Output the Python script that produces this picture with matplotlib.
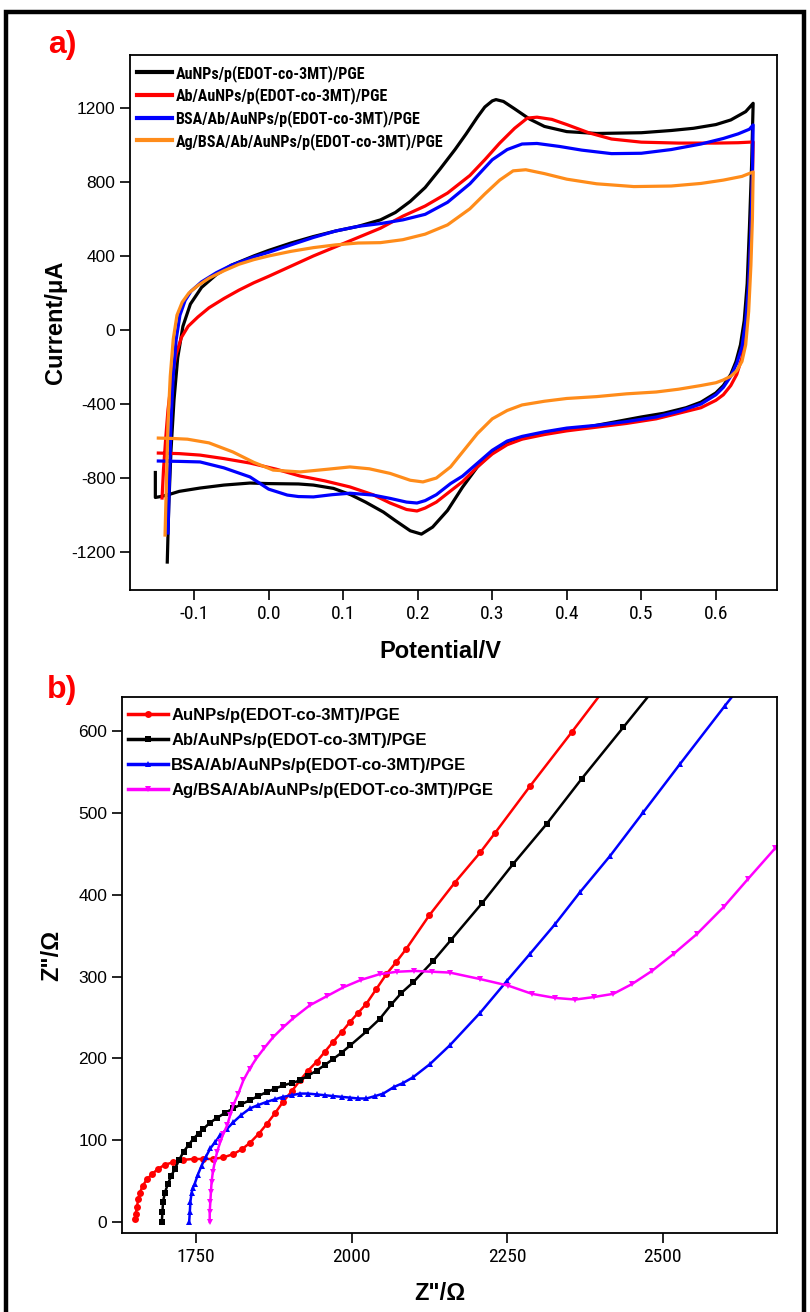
import matplotlib
matplotlib.use("Agg")
import matplotlib.pyplot as plt
from matplotlib import font_manager
from matplotlib.font_manager import FontProperties
from matplotlib.patches import Rectangle

def pick(fams):
    for f in fams:
        try:
            font_manager.findfont(FontProperties(family=f), fallback_to_default=False)
            return f
        except Exception:
            pass
    return "DejaVu Sans"

SANS = pick(["Liberation Sans", "Arial", "DejaVu Sans"])

def narrow_file(bold):
    cands = []
    for f in font_manager.fontManager.ttflist:
        fn = f.fname.lower()
        name = f.name.lower()
        is_bold = (f.weight in ("bold", 700, "700")) or ("bold" in fn)
        if is_bold != bold or "italic" in fn or "oblique" in fn:
            continue
        if "liberation" in name and "narrow" in (name + fn):
            cands.append((0, f.fname))
        elif "roboto" in name and "condensed" in (name + fn) and "light" not in fn and "medium" not in fn:
            cands.append((1, f.fname))
        elif "dejavu" in name and "condensed" in fn:
            cands.append((2, f.fname))
    cands.sort()
    return cands[0][1] if cands else None

NR = narrow_file(False)
NB = narrow_file(True)

def nprop(size, bold=False):
    p = NB if bold else NR
    if p:
        return FontProperties(fname=p, size=size)
    return FontProperties(family=SANS, size=size, weight="bold" if bold else "normal")

# ---------------- CV data (panel a) ----------------
cv_labels = ["AuNPs/p(EDOT-co-3MT)/PGE", "Ab/AuNPs/p(EDOT-co-3MT)/PGE",
             "BSA/Ab/AuNPs/p(EDOT-co-3MT)/PGE", "Ag/BSA/Ab/AuNPs/p(EDOT-co-3MT)/PGE"]
cv_colors = ["#000000", "#ff0000", "#0000ff", "#ff8c1a"]

black_E = [-0.136, -0.134, -0.131, -0.127, -0.122, -0.115, -0.105, -0.09, -0.07, -0.05, -0.02, 0.0, 0.03, 0.06, 0.09, 0.12, 0.15, 0.17, 0.19, 0.21, 0.23, 0.25, 0.265, 0.28, 0.29, 0.30, 0.305, 0.315, 0.33, 0.35, 0.37, 0.40, 0.44, 0.50, 0.54, 0.57, 0.60, 0.62, 0.64, 0.65,
           0.648, 0.645, 0.642, 0.638, 0.633, 0.627, 0.62, 0.61, 0.60, 0.58, 0.56, 0.53, 0.50, 0.46, 0.42, 0.38, 0.35, 0.32, 0.30, 0.28, 0.26, 0.24, 0.22, 0.205, 0.19, 0.17, 0.154, 0.13, 0.11, 0.087, 0.06, 0.04, 0.0, -0.025, -0.06, -0.092, -0.12, -0.136, -0.145, -0.152, -0.152]
black_I = [-1254, -950, -650, -380, -150, 20, 140, 230, 300, 350, 400, 430, 470, 505, 535, 560, 595, 635, 695, 770, 870, 975, 1060, 1150, 1205, 1238, 1245, 1235, 1195, 1140, 1100, 1072, 1062, 1066, 1078, 1090, 1110, 1135, 1180, 1225,
           900, 550, 250, 50, -80, -170, -240, -300, -340, -390, -420, -450, -470, -500, -530, -550, -575, -610, -660, -740, -850, -975, -1065, -1103, -1085, -1030, -984, -930, -890, -856, -838, -832, -830, -827, -838, -854, -872, -892, -900, -905, -770]

red_E = [-0.143, -0.141, -0.138, -0.135, -0.13, -0.124, -0.117, -0.108, -0.095, -0.08, -0.06, -0.04, -0.02, 0.0, 0.03, 0.06, 0.09, 0.12, 0.15, 0.18, 0.21, 0.24, 0.27, 0.29, 0.31, 0.33, 0.347, 0.36, 0.38, 0.40, 0.43, 0.46, 0.50, 0.55, 0.60, 0.63, 0.65,
         0.649, 0.647, 0.644, 0.64, 0.635, 0.628, 0.62, 0.61, 0.60, 0.58, 0.55, 0.52, 0.48, 0.44, 0.40, 0.37, 0.34, 0.32, 0.30, 0.28, 0.26, 0.244, 0.225, 0.21, 0.199, 0.185, 0.163, 0.14, 0.109, 0.075, 0.042, 0.01, -0.025, -0.06, -0.092, -0.12, -0.148]
red_I = [-908, -750, -580, -430, -260, -130, -40, 20, 70, 120, 170, 215, 255, 290, 345, 400, 450, 500, 550, 615, 670, 740, 835, 920, 1010, 1090, 1145, 1150, 1138, 1110, 1065, 1032, 1015, 1010, 1010, 1012, 1016,
         800, 500, 200, -20, -150, -240, -300, -350, -380, -420, -450, -480, -505, -525, -545, -565, -590, -620, -670, -740, -820, -870, -930, -962, -978, -970, -935, -890, -848, -815, -789, -752, -719, -695, -676, -668, -665]

blue_E = [-0.135, -0.133, -0.131, -0.128, -0.124, -0.119, -0.112, -0.104, -0.09, -0.07, -0.05, -0.02, 0.0, 0.03, 0.06, 0.09, 0.12, 0.15, 0.18, 0.21, 0.24, 0.27, 0.30, 0.32, 0.34, 0.36, 0.39, 0.42, 0.46, 0.50, 0.54, 0.58, 0.61, 0.63, 0.645, 0.65,
          0.649, 0.647, 0.644, 0.64, 0.635, 0.628, 0.62, 0.61, 0.60, 0.58, 0.55, 0.52, 0.48, 0.44, 0.40, 0.37, 0.34, 0.32, 0.30, 0.28, 0.26, 0.244, 0.225, 0.21, 0.199, 0.185, 0.163, 0.14, 0.109, 0.085, 0.06, 0.04, 0.025, 0.0, -0.025, -0.06, -0.092, -0.12, -0.148]
blue_I = [-1097, -800, -500, -250, -50, 80, 160, 210, 260, 310, 350, 395, 420, 460, 500, 535, 560, 575, 595, 625, 690, 790, 920, 975, 1005, 1008, 992, 972, 953, 955, 975, 1005, 1035, 1060, 1085, 1108,
          850, 550, 250, 50, -90, -180, -250, -310, -350, -400, -440, -470, -495, -515, -530, -550, -575, -600, -650, -720, -790, -830, -890, -922, -935, -930, -910, -892, -882, -890, -902, -900, -892, -860, -794, -745, -713, -710, -708]

orange_E = [-0.139, -0.137, -0.135, -0.132, -0.128, -0.123, -0.116, -0.107, -0.095, -0.08, -0.06, -0.04, -0.02, 0.0, 0.03, 0.06, 0.09, 0.12, 0.15, 0.18, 0.21, 0.24, 0.27, 0.29, 0.31, 0.328, 0.345, 0.37, 0.40, 0.44, 0.49, 0.54, 0.58, 0.61, 0.635, 0.65,
            0.649, 0.647, 0.644, 0.64, 0.635, 0.628, 0.62, 0.61, 0.60, 0.58, 0.55, 0.52, 0.48, 0.44, 0.40, 0.37, 0.34, 0.32, 0.30, 0.28, 0.26, 0.244, 0.225, 0.207, 0.19, 0.163, 0.135, 0.109, 0.08, 0.042, 0.006, -0.02, -0.048, -0.08, -0.109, -0.13, -0.148]
orange_I = [-1108, -800, -500, -250, -50, 80, 150, 200, 240, 280, 320, 355, 380, 400, 425, 445, 460, 470, 472, 488, 518, 568, 655, 735, 810, 860, 866, 845, 815, 790, 775, 778, 792, 810, 830, 854,
            600, 350, 100, -80, -170, -220, -250, -270, -285, -300, -320, -335, -345, -360, -370, -385, -405, -435, -480, -560, -660, -740, -800, -821, -812, -775, -750, -740, -752, -767, -757, -715, -659, -610, -590, -586, -584]

cv_E = [black_E, red_E, blue_E, orange_E]
cv_I = [black_I, red_I, blue_I, orange_I]
cv_xticks = [-0.1, 0.0, 0.1, 0.2, 0.3, 0.4, 0.5, 0.6]
cv_yticks = [-1200, -800, -400, 0, 400, 800, 1200]

# ---------------- EIS data (panel b) ----------------
eis_labels = ["AuNPs/p(EDOT-co-3MT)/PGE", "Ab/AuNPs/p(EDOT-co-3MT)/PGE",
              "BSA/Ab/AuNPs/p(EDOT-co-3MT)/PGE", "Ag/BSA/Ab/AuNPs/p(EDOT-co-3MT)/PGE"]
eis_colors = ["#ff0000", "#000000", "#0000ff", "#ff00ff"]
eis_markers = ["o", "s", "^", "v"]

au_Zre = [1652, 1653, 1655, 1657, 1660, 1664, 1671, 1680, 1689, 1700, 1713, 1729, 1746, 1762, 1778, 1794, 1810, 1824, 1837, 1851, 1864, 1877, 1890, 1904, 1917, 1930, 1944, 1957, 1970, 1984, 1998, 2011, 2024, 2040, 2056, 2072, 2088, 2125, 2166, 2207, 2231, 2287, 2354, 2410]
au_Zim = [4, 10, 18, 28, 36, 44, 52, 59, 65, 70, 73, 76, 77, 77, 77, 79, 83, 89, 97, 108, 120, 133, 147, 160, 173, 185, 196, 208, 220, 232, 245, 256, 267, 285, 303, 318, 334, 375, 415, 452, 476, 533, 599, 655]

ab_Zre = [1695, 1696, 1697, 1700, 1705, 1710, 1716, 1723, 1730, 1738, 1746, 1754, 1762, 1772, 1783, 1796, 1810, 1823, 1837, 1850, 1864, 1877, 1890, 1904, 1917, 1930, 1944, 1957, 1970, 1984, 1998, 2024, 2045, 2064, 2080, 2099, 2131, 2160, 2210, 2260, 2314, 2370, 2437, 2490]
ab_Zim = [0, 12, 25, 36, 47, 56, 65, 76, 86, 94, 102, 108, 114, 121, 127, 133, 139, 144, 149, 154, 159, 163, 167, 170, 173, 179, 185, 192, 199, 207, 216, 233, 248, 266, 280, 293, 319, 345, 390, 438, 487, 542, 605, 655]

bsa_Zre = [1739, 1740, 1741, 1743, 1745, 1748, 1753, 1759, 1766, 1773, 1781, 1789, 1800, 1810, 1823, 1837, 1850, 1864, 1877, 1890, 1904, 1917, 1930, 1944, 1957, 1970, 1984, 1998, 2011, 2024, 2038, 2051, 2068, 2083, 2099, 2126, 2158, 2207, 2250, 2287, 2327, 2367, 2416, 2469, 2528, 2600, 2625]
bsa_Zim = [0, 12, 25, 36, 42, 47, 58, 69, 80, 90, 98, 106, 114, 122, 131, 139, 143, 147, 150, 153, 155, 157, 157, 156, 155, 154, 153, 152, 151, 151, 154, 157, 165, 170, 177, 193, 216, 256, 295, 328, 364, 403, 448, 501, 560, 631, 655]

ag_Zre = [1772, 1772, 1773, 1774, 1775, 1777, 1780, 1784, 1789, 1794, 1800, 1805, 1810, 1818, 1826, 1836, 1847, 1860, 1874, 1890, 1906, 1933, 1960, 1987, 2015, 2045, 2073, 2101, 2130, 2158, 2207, 2252, 2290, 2327, 2360, 2389, 2421, 2451, 2483, 2518, 2555, 2598, 2638, 2681, 2700]
ag_Zim = [0, 12, 25, 37, 49, 61, 73, 86, 98, 108, 118, 131, 143, 157, 173, 187, 200, 213, 226, 238, 249, 265, 276, 287, 296, 303, 306, 307, 306, 305, 297, 289, 279, 274, 272, 275, 279, 291, 307, 328, 352, 385, 420, 457, 467]

eis_Zre = [au_Zre, ab_Zre, bsa_Zre, ag_Zre]
eis_Zim = [au_Zim, ab_Zim, bsa_Zim, ag_Zim]
eis_xticks = [1750, 2000, 2250, 2500]
eis_yticks = [0, 100, 200, 300, 400, 500, 600]

# ---------------- figure ----------------
W, H = 810, 1312
fig = plt.figure(figsize=(W / 100, H / 100), dpi=100)
fig.patch.set_facecolor("white")

def px_axes(l, t, r, b):
    return fig.add_axes([l / W, 1 - b / H, (r - l) / W, (b - t) / H])

fig.add_artist(Rectangle((6 / W, -0.05), (W - 12) / W, 1.05 - 12 / H, transform=fig.transFigure,
                         fill=False, edgecolor="black", linewidth=3.2, zorder=10))

def style(ax):
    for s in ax.spines.values():
        s.set_linewidth(1.3)
        s.set_color("black")
    ax.tick_params(axis="both", which="both", direction="out", length=7, width=1.2,
                   top=False, right=False, colors="black")

def set_ticklabels(ax, xt, xl, yt, yl):
    ax.set_xticks(xt)
    ax.set_xticklabels(xl)
    for t in ax.get_xticklabels():
        t.set_fontproperties(nprop(14))
    ax.set_yticks(yt)
    ax.set_yticklabels(yl)
    for t in ax.get_yticklabels():
        t.set_fontfamily(SANS)
        t.set_fontsize(12.5)

# ---- panel a ----
ax1 = px_axes(130, 55, 777, 590)
for E, I, c, lab in zip(cv_E, cv_I, cv_colors, cv_labels):
    ax1.plot(E, I, color=c, lw=2.3, label=lab, solid_joinstyle="round")
ax1.set_xlim(-0.186, 0.682)
ax1.set_ylim(-1405, 1486)
set_ticklabels(ax1, cv_xticks, [f"{v:.1f}" for v in cv_xticks], cv_yticks, [str(v) for v in cv_yticks])
style(ax1)
leg1 = ax1.legend(loc="upper left", bbox_to_anchor=(0.011, 0.982), frameon=False,
                  prop=nprop(11.5 if NB else 10, bold=True),
                  handlelength=2.2, handletextpad=0.2, labelspacing=0.36, borderaxespad=0, borderpad=0)
for h in leg1.get_lines():
    h.set_linewidth(3)

fig.text(62 / W, 1 - 45 / H, "a)", color="#ff0000", fontsize=23, fontweight="bold",
         fontfamily=SANS, ha="center", va="center")
fig.text(55 / W, 1 - 322 / H, "Current/\u03bcA", rotation=90, fontsize=17, fontweight="bold",
         fontfamily=SANS, ha="center", va="center")
fig.text(440 / W, 1 - 651 / H, "Potential/V", fontsize=17, fontweight="bold",
         fontfamily=SANS, ha="center", va="center")

# ---- panel b ----
ax2 = px_axes(122, 697, 777, 1233)
for x, y, c, m, lab in zip(eis_Zre, eis_Zim, eis_colors, eis_markers, eis_labels):
    ax2.plot(x, y, color=c, lw=1.8, marker=m, markersize=5, markeredgewidth=0, label=lab)
ax2.set_xlim(1631, 2684)
ax2.set_ylim(-13.5, 642)
set_ticklabels(ax2, eis_xticks, [str(v) for v in eis_xticks], eis_yticks, [str(v) for v in eis_yticks])
style(ax2)
leg2 = ax2.legend(loc="upper left", bbox_to_anchor=(0.009, 0.98), frameon=False,
                  prop={"family": SANS, "weight": "bold", "size": 12},
                  handlelength=2.4, handletextpad=0.2, labelspacing=0.6, borderaxespad=0, borderpad=0)
for h in leg2.get_lines():
    h.set_linewidth(2.5)

fig.text(62 / W, 1 - 690 / H, "b)", color="#ff0000", fontsize=23, fontweight="bold",
         fontfamily=SANS, ha="center", va="center")
fig.text(52 / W, 1 - 955 / H, "Z\"/\u03a9", rotation=90, fontsize=17, fontweight="bold",
         fontfamily=SANS, ha="center", va="center")
fig.text(440 / W, 1 - 1293 / H, "Z\"/\u03a9", fontsize=17, fontweight="bold",
         fontfamily=SANS, ha="center", va="center")

fig.savefig("out.png", dpi=100, facecolor="white")
